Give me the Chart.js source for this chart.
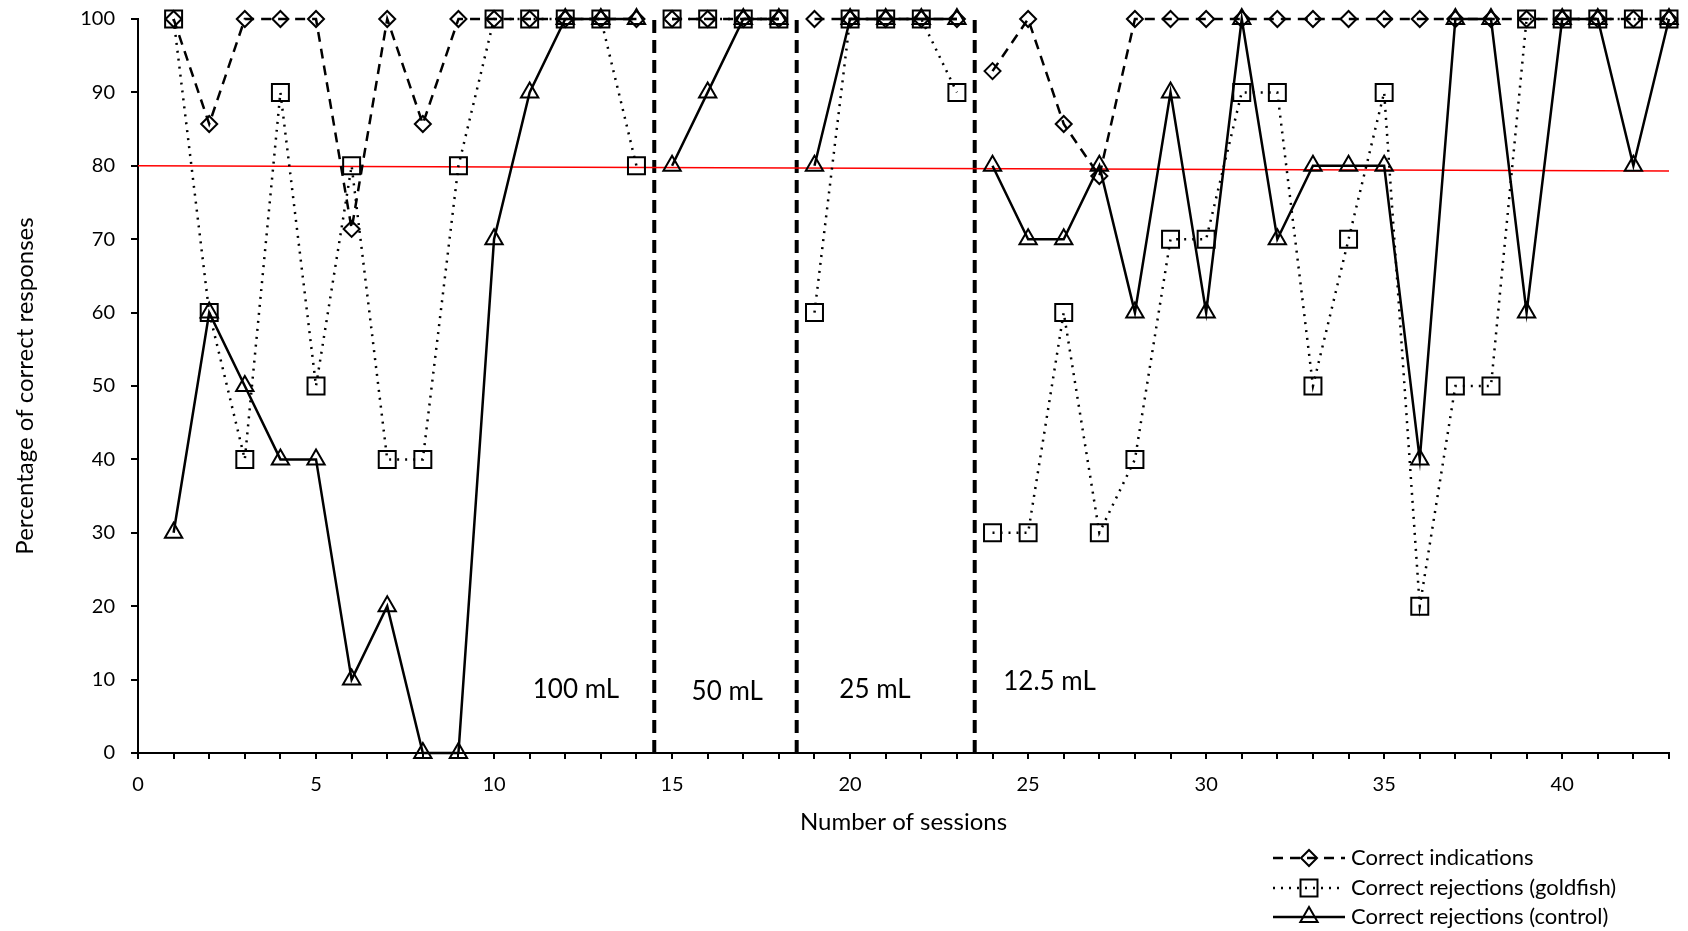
<!DOCTYPE html>
<html>
<head>
<meta charset="utf-8">
<title>Correct responses per session</title>
<script src="https://cdn.jsdelivr.net/npm/chart.js@4.4.0/dist/chart.umd.min.js"></script>
<style>
  html, body { margin: 0; padding: 0; background: #fff; }
  #wrap { width: 1688px; height: 931px; }
</style>
</head>
<body>
<div id="wrap"><canvas id="sessionsChart" width="1688" height="931"></canvas></div>
<script>
// sessions and values
var sessions = [1, 2, 3, 4, 5, 6, 7, 8, 9, 10, 11, 12, 13, 14, 15, 16, 17, 18, 19, 20, 21, 22,
  23, 24, 25, 26, 27, 28, 29, 30, 31, 32, 33, 34, 35, 36, 37, 38, 39, 40, 41, 42, 43];
var correctIndications = [100, 85.7, 100, 100, 100, 71.4, 100, 85.7, 100, 100, 100, 100, 100, 100,
  100, 100, 100, 100,
  100, 100, 100, 100, 100,
  92.9, 100, 85.7, 78.6, 100, 100, 100, 100, 100, 100, 100, 100, 100, 100, 100, 100, 100, 100, 100, 100];
var rejectionsGoldfish = [100, 60, 40, 90, 50, 80, 40, 40, 80, 100, 100, 100, 100, 80,
  100, 100, 100, 100,
  60, 100, 100, 100, 90,
  30, 30, 60, 30, 40, 70, 70, 90, 90, 50, 70, 90, 20, 50, 50, 100, 100, 100, 100, 100];
var rejectionsControl = [30, 60, 50, 40, 40, 10, 20, 0, 0, 70, 90, 100, 100, 100,
  80, 90, 100, 100,
  80, 100, 100, 100, 100,
  80, 70, 70, 80, 60, 90, 60, 100, 70, 80, 80, 80, 40, 100, 100, 60, 100, 100, 80, 100];

// boundaries between volume phases, and the phase names
var phaseBreaks = [14.5, 18.5, 23.5];
var phaseNames = ['100 mL', '50 mL', '25 mL', '12.5 mL'];
var phaseNameSpots = [[12.3, 8.6], [16.55, 8.3], [20.7, 8.7], [25.6, 9.7]];

// 80 % criterion line (slightly sloped in the original)
var criterionX = [0, 43];
var criterionY = [80, 79.3];

var seriesNames = ['Correct indications', 'Correct rejections (goldfish)', 'Correct rejections (control)'];

// split a series at the phase boundaries
function withGaps(values) {
  var pts = [];
  sessions.forEach(function (s, i) {
    phaseBreaks.forEach(function (b) {
      if (b > s - 1 && b < s) pts.push({ x: b, y: null });
    });
    pts.push({ x: s, y: values[i] });
  });
  return pts;
}

var seriesStyle = [
  { dash: [10, 7], shape: 'rectRot', radius: 8 },
  { dash: [2, 6], shape: 'rect', radius: 12 },
  { dash: [], shape: 'triangle', radius: 10 }
];

var datasets = [correctIndications, rejectionsGoldfish, rejectionsControl].map(function (vals, i) {
  return {
    label: seriesNames[i],
    data: withGaps(vals),
    borderColor: '#000',
    borderWidth: 2.5,
    borderDash: seriesStyle[i].dash,
    pointStyle: seriesStyle[i].shape,
    pointRadius: seriesStyle[i].radius,
    pointBorderWidth: 2,
    pointBorderColor: '#000',
    pointBackgroundColor: 'rgba(0,0,0,0)',
    tension: 0,
    spanGaps: false,
    clip: false
  };
});

datasets.push({
  label: 'criterion',
  data: criterionX.map(function (x, i) { return { x: x, y: criterionY[i] }; }),
  borderColor: '#ff0000',
  borderWidth: 1.5,
  pointRadius: 0,
  clip: false
});

phaseBreaks.forEach(function (b) {
  datasets.push({
    label: 'phase',
    data: [{ x: b, y: 0 }, { x: b, y: 100 }],
    borderColor: '#000',
    borderWidth: 4,
    borderDash: [13, 7],
    pointRadius: 0,
    clip: false
  });
});

function drawMarker(ctx, shape, r, x, y) {
  ctx.beginPath();
  if (shape === 'rectRot') {
    ctx.moveTo(x - r, y); ctx.lineTo(x, y - r); ctx.lineTo(x + r, y); ctx.lineTo(x, y + r);
  } else if (shape === 'rect') {
    var h = r * Math.SQRT1_2;
    ctx.rect(x - h, y - h, 2 * h, 2 * h);
  } else {
    for (var k = 0; k < 3; k++) {
      var a = k * 2 * Math.PI / 3;
      ctx[k ? 'lineTo' : 'moveTo'](x + Math.sin(a) * r, y - Math.cos(a) * r);
    }
  }
  ctx.closePath();
  ctx.stroke();
}

var phaseLabelPlugin = {
  id: 'phaseLabels',
  afterDatasetsDraw: function (chart) {
    var ctx = chart.ctx, xs = chart.scales.x, ys = chart.scales.y;
    ctx.save();
    ctx.fillStyle = '#000';
    ctx.font = '26px Lato';
    ctx.textAlign = 'center';
    ctx.textBaseline = 'middle';
    phaseNames.forEach(function (name, i) {
      ctx.fillText(name, xs.getPixelForValue(phaseNameSpots[i][0]), ys.getPixelForValue(phaseNameSpots[i][1]));
    });
    ctx.restore();
  }
};

var legendPlugin = {
  id: 'sideLegend',
  afterDraw: function (chart) {
    var ctx = chart.ctx;
    var x0 = 1273, x1 = 1345, rows = [858, 888, 917];
    ctx.save();
    ctx.strokeStyle = '#000';
    ctx.fillStyle = '#000';
    ctx.font = '22px Lato';
    ctx.textBaseline = 'middle';
    seriesNames.forEach(function (name, i) {
      var y = rows[i];
      ctx.lineWidth = 2.5;
      ctx.setLineDash(seriesStyle[i].dash);
      ctx.beginPath();
      ctx.moveTo(x0, y);
      ctx.lineTo(x1, y);
      ctx.stroke();
      ctx.setLineDash([]);
      ctx.lineWidth = 2;
      drawMarker(ctx, seriesStyle[i].shape, seriesStyle[i].radius, (x0 + x1) / 2, y);
      ctx.fillText(name, x1 + 6, y);
    });
    ctx.restore();
  }
};

var ctx = document.getElementById('sessionsChart').getContext('2d');
var sessionsChart = new Chart(ctx, {
  type: 'line',
  data: { datasets: datasets },
  options: {
    responsive: false,
    animation: false,
    layout: { padding: { top: 19, right: 19, bottom: 91, left: 0 } },
    plugins: {
      legend: { display: false },
      tooltip: { enabled: false }
    },
    scales: {
      x: {
        type: 'linear',
        min: 0,
        max: 43,
        afterFit: function (s) { s.height = 87; },
        ticks: {
          stepSize: 1,
          autoSkip: false,
          maxRotation: 0,
          padding: 14,
          color: '#000',
          font: { family: 'Lato', size: 20 },
          callback: function (v) { return v % 5 === 0 ? v : ''; }
        },
        grid: { drawOnChartArea: false, drawTicks: true, tickLength: 6, color: '#000', lineWidth: 2 },
        border: { display: true, color: '#000', width: 2 },
        title: {
          display: true,
          text: 'Number of sessions',
          color: '#000',
          font: { family: 'Lato', size: 24 },
          padding: { top: 0, bottom: 3 }
        }
      },
      y: {
        min: 0,
        max: 100,
        afterFit: function (s) {
          s.width = 138;
          // label overhang only, so the plot reaches the top padding
          s.paddingTop = 12;
          s.paddingBottom = 12;
        },
        ticks: {
          stepSize: 10,
          padding: 16,
          color: '#000',
          font: { family: 'Lato', size: 20 }
        },
        grid: { drawOnChartArea: false, drawTicks: true, tickLength: 7, color: '#000', lineWidth: 2 },
        border: { display: true, color: '#000', width: 2 },
        title: {
          display: true,
          text: 'Percentage of correct responses',
          color: '#000',
          font: { family: 'Lato', size: 24 },
          padding: { top: 11, bottom: 0 }
        }
      }
    }
  },
  plugins: [phaseLabelPlugin, legendPlugin]
});
</script>
</body>
</html>
